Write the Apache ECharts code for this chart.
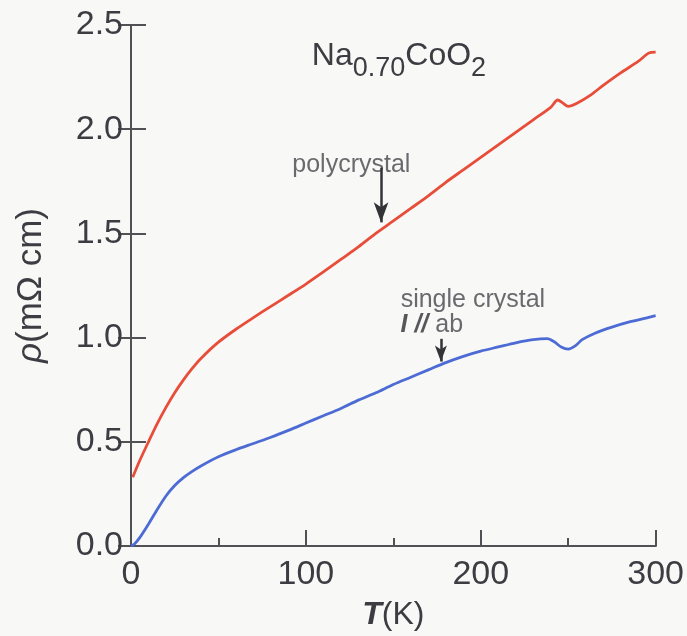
<!DOCTYPE html>
<html>
<head>
<meta charset="utf-8">
<script src="https://cdn.jsdelivr.net/npm/echarts@6/dist/echarts.min.js"></script>
<style>
html,body{margin:0;padding:0;background:#f8f8f6;}
#c{width:687px;height:636px;}
</style>
</head>
<body>
<div id="c"></div>
<script>
// Data
const polyT   = [1, 5, 10, 15, 20, 25, 30, 35, 40, 50, 60, 70, 80, 90, 100, 110, 120, 130, 140, 150, 160, 170, 180, 190, 200, 210, 220, 230, 240, 244, 247, 250, 255, 263, 270, 280, 290, 296, 300];
const polyRho = [0.33, 0.41, 0.50, 0.587, 0.665, 0.735, 0.797, 0.852, 0.90, 0.978, 1.04, 1.096, 1.15, 1.203, 1.257, 1.315, 1.375, 1.435, 1.50, 1.56, 1.62, 1.68, 1.745, 1.805, 1.865, 1.925, 1.985, 2.045, 2.105, 2.14, 2.125, 2.11, 2.125, 2.165, 2.21, 2.27, 2.325, 2.365, 2.37];

const singleT   = [0, 2, 5, 10, 15, 20, 25, 30, 35, 40, 50, 60, 70, 80, 90, 100, 110, 120, 130, 140, 150, 160, 170, 180, 190, 200, 210, 220, 230, 238, 242, 246, 250, 254, 258, 265, 275, 285, 295, 300];
const singleRho = [0.0, 0.01, 0.04, 0.105, 0.175, 0.24, 0.29, 0.328, 0.358, 0.384, 0.428, 0.462, 0.492, 0.522, 0.555, 0.59, 0.625, 0.66, 0.70, 0.735, 0.775, 0.81, 0.845, 0.88, 0.91, 0.935, 0.955, 0.975, 0.99, 0.995, 0.98, 0.955, 0.945, 0.96, 0.99, 1.02, 1.05, 1.075, 1.095, 1.105];

const xTicks = [0, 100, 200, 300];
const yTicks = [0.0, 0.5, 1.0, 1.5, 2.0, 2.5];

// annotation anchors (data coordinates)
const polyLabel    = {text: 'polycrystal', T: 126, rho: 1.83};
const polyArrow    = [[143, 1.815], [143, 1.553]];
const singleLabel1 = {text: 'single crystal', T: 195.5, rho: 1.18};
const singleLabel2 = {text: '{i|I //} ab', T: 172, rho: 1.062};
const singleArrow  = [[177.2, 0.994], [177.2, 0.885]];

const FONT = 'Liberation Sans, Arial, sans-serif';
const TXT = '#3c3c42';
const AX = '#505055';

const chart = echarts.init(document.getElementById('c'));
const zip = (a, b) => a.map((v, i) => [v, b[i]]);

chart.setOption({
  backgroundColor: '#f8f8f6',
  animation: false,
  title: {
    text: '{a|Na}{s|0.70}{a|CoO}{s|2}',
    left: 394, top: 35, textAlign: 'center',
    textStyle: {
      rich: {
        a: {fontFamily: FONT, fontSize: 32, fontWeight: 'normal', color: TXT, lineHeight: 32, verticalAlign: 'top'},
        s: {fontFamily: FONT, fontSize: 27, fontWeight: 'normal', color: TXT, lineHeight: 27, verticalAlign: 'top', padding: [15, 0, 0, 0]}
      }
    }
  },
  grid: {left: 131, right: 30, top: 25, bottom: 88, containLabel: false},
  xAxis: [{
    type: 'value', min: 0, max: 300, interval: 100,
    name: '{i|T}(K)', nameLocation: 'middle', nameGap: 53,
    nameTextStyle: {fontFamily: FONT, fontSize: 32, color: TXT,
      rich: {i: {fontFamily: FONT, fontSize: 32, color: TXT, fontStyle: 'italic', fontWeight: 'bold'}}},
    axisLine: {show: true, lineStyle: {color: AX, width: 2}},
    axisTick: {show: true, inside: true, length: 16, lineStyle: {color: AX, width: 2}},
    minorTick: {show: true, splitNumber: 2, length: 8, lineStyle: {color: AX, width: 2}},
    axisLabel: {fontFamily: FONT, fontSize: 34, color: TXT, margin: 12,
      formatter: v => xTicks.includes(v) ? String(v) : ''},
    splitLine: {show: false}
  }, {
    type: 'value', min: 0, max: 300, position: 'top',
    axisLine: {show: true, lineStyle: {color: AX, width: 2}},
    axisTick: {show: false}, axisLabel: {show: false}, splitLine: {show: false}
  }],
  yAxis: [{
    type: 'value', min: 0, max: 2.5, interval: 0.5,
    name: '{i|ρ}(mΩ cm)', nameLocation: 'middle', nameGap: 82, nameRotate: 90,
    nameTextStyle: {fontFamily: FONT, fontSize: 35, color: TXT,
      rich: {i: {fontFamily: FONT, fontSize: 35, color: TXT, fontStyle: 'italic'}}},
    axisLine: {show: true, lineStyle: {color: AX, width: 2}},
    axisTick: {show: true, inside: true, length: 15, lineStyle: {color: AX, width: 2}},
    axisLabel: {fontFamily: FONT, fontSize: 34, color: TXT, margin: 8,
      formatter: v => { const t = yTicks.find(y => Math.abs(y - v) < 1e-9); return t === undefined ? '' : t.toFixed(1); }},
    splitLine: {show: false}
  }, {
    type: 'value', min: 0, max: 2.5, interval: 0.5, position: 'right',
    axisLine: {show: true, lineStyle: {color: AX, width: 2}},
    axisTick: {show: true, inside: true, length: 13, lineStyle: {color: AX, width: 2}},
    axisLabel: {show: false}, splitLine: {show: false}
  }],
  series: [{
    name: 'polycrystal', type: 'line', data: zip(polyT, polyRho),
    showSymbol: false, smooth: 0.3,
    lineStyle: {color: '#e84d3a', width: 2.8},
    markLine: {
      silent: true, symbol: ['none', 'arrow'], symbolSize: [11, 20],
      lineStyle: {color: '#333338', width: 2.5, type: 'solid'}, label: {show: false},
      data: [[{coord: polyArrow[0]}, {coord: polyArrow[1]}]]
    }
  }, {
    name: 'single crystal', type: 'line', data: zip(singleT, singleRho),
    showSymbol: false, smooth: 0.3,
    lineStyle: {color: '#4d6bd4', width: 2.8},
    markLine: {
      silent: true, symbol: ['none', 'arrow'], symbolSize: [9, 16],
      lineStyle: {color: '#333338', width: 2.5, type: 'solid'}, label: {show: false},
      data: [[{coord: singleArrow[0]}, {coord: singleArrow[1]}]]
    }
  }, {
    type: 'scatter', symbolSize: 0, silent: true,
    data: [polyLabel, singleLabel1, singleLabel2].map(d => ({value: [d.T, d.rho], name: d.text})),
    label: {
      show: true, position: 'inside', formatter: p => p.name,
      fontFamily: FONT, fontSize: 25, color: '#46464c',
      rich: {i: {fontFamily: FONT, fontSize: 25, color: '#2e2e34', fontStyle: 'italic', fontWeight: 'bold'}}
    }
  }]
});
</script>
</body>
</html>
